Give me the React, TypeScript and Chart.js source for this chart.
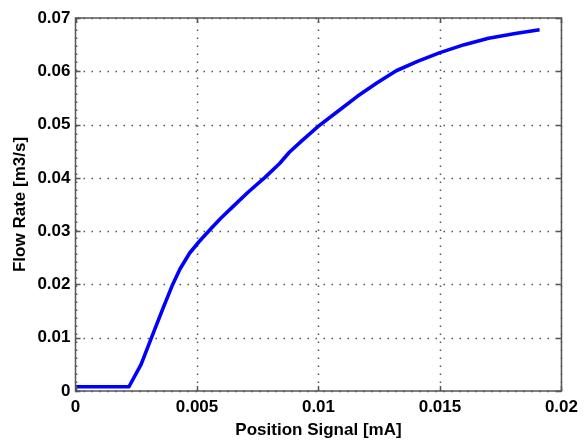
import React, { useEffect, useRef } from "react";
import { Chart, registerables } from "chart.js";

Chart.register(...registerables);

const positionSignal = [
  0, 0.0022, 0.0027, 0.0031, 0.0036, 0.004, 0.0043, 0.0047, 0.0051, 0.0056,
  0.006, 0.0065, 0.0071, 0.0078, 0.0084, 0.0088, 0.0093, 0.01, 0.0108, 0.0116,
  0.0124, 0.0132, 0.0141, 0.015, 0.016, 0.017, 0.0181, 0.0191,
];
const flowRate = [
  0.0008, 0.0008, 0.005, 0.0097, 0.0155, 0.02, 0.0229, 0.0259, 0.0281, 0.0306,
  0.0325, 0.0347, 0.0373, 0.0401, 0.0427, 0.0448, 0.0469, 0.0497, 0.0525, 0.0553,
  0.0578, 0.0601, 0.0619, 0.0635, 0.065, 0.0662, 0.0671, 0.0678,
];

const xTitle = "Position Signal [mA]";
const yTitle = "Flow Rate [m3/s]";
const FONT = "'Liberation Sans', Arial, sans-serif";

const fmt = (v: number) => String(+Number(v).toFixed(4));

const matlabAxes = {
  id: "matlabAxes",
  beforeDatasetsDraw(chart: any) {
    const { ctx, chartArea: a, scales } = chart;
    ctx.save();
    ctx.strokeStyle = "#555555";
    ctx.lineWidth = 1.5;
    ctx.setLineDash([1.5, 6.5]);
    scales.x.ticks.forEach((t: any) => {
      const px = Math.round(scales.x.getPixelForValue(t.value)) + 0.5;
      ctx.beginPath();
      ctx.moveTo(px, a.bottom);
      ctx.lineTo(px, a.top);
      ctx.stroke();
    });
    scales.y.ticks.forEach((t: any) => {
      const py = Math.round(scales.y.getPixelForValue(t.value)) + 0.5;
      ctx.beginPath();
      ctx.moveTo(a.left, py);
      ctx.lineTo(a.right, py);
      ctx.stroke();
    });
    ctx.restore();
  },
  afterDraw(chart: any) {
    const { ctx, chartArea: a, scales } = chart;
    ctx.save();
    ctx.strokeStyle = "#555555";
    ctx.lineWidth = 1.5;
    ctx.setLineDash([]);
    const tl = 5;
    scales.x.ticks.forEach((t: any) => {
      const px = Math.round(scales.x.getPixelForValue(t.value)) + 0.5;
      ctx.beginPath();
      ctx.moveTo(px, a.bottom);
      ctx.lineTo(px, a.bottom - tl);
      ctx.moveTo(px, a.top);
      ctx.lineTo(px, a.top + tl);
      ctx.stroke();
    });
    scales.y.ticks.forEach((t: any) => {
      const py = Math.round(scales.y.getPixelForValue(t.value)) + 0.5;
      ctx.beginPath();
      ctx.moveTo(a.left, py);
      ctx.lineTo(a.left + tl, py);
      ctx.moveTo(a.right, py);
      ctx.lineTo(a.right - tl, py);
      ctx.stroke();
    });
    ctx.strokeRect(a.left, a.top, a.right - a.left, a.bottom - a.top);
    ctx.restore();
  },
};

export default function App() {
  const ref = useRef<HTMLCanvasElement | null>(null);

  useEffect(() => {
    if (!ref.current) return;
    const chart = new Chart(ref.current, {
      type: "line",
      data: {
        datasets: [
          {
            data: positionSignal.map((x, i) => ({ x, y: flowRate[i] })),
            borderColor: "#0000ff",
            borderWidth: 3.6,
            pointRadius: 0,
            tension: 0,
            borderJoinStyle: "round",
            fill: false,
          },
        ],
      },
      options: {
        animation: false,
        responsive: false,
        layout: { padding: { left: 0, top: 18, right: 18, bottom: 0 } },
        plugins: { legend: { display: false }, tooltip: { enabled: false } },
        scales: {
          x: {
            type: "linear",
            min: 0,
            max: 0.02,
            grid: { display: false, drawTicks: false },
            border: { display: false },
            ticks: {
              stepSize: 0.005,
              padding: 6,
              color: "#000",
              font: { family: FONT, size: 17, weight: "bold" },
              callback: (v: any) => fmt(v),
              maxRotation: 0,
            },
            title: {
              display: true,
              text: xTitle,
              color: "#000",
              font: { family: FONT, size: 17, weight: "bold" },
              padding: { top: 3, bottom: 0 },
            },
            afterFit: (s: any) => {
              s.height = 50;
            },
          },
          y: {
            type: "linear",
            min: 0,
            max: 0.07,
            grid: { display: false, drawTicks: false },
            border: { display: false },
            ticks: {
              stepSize: 0.01,
              padding: 5,
              color: "#000",
              font: { family: FONT, size: 17, weight: "bold" },
              callback: (v: any) => fmt(v),
            },
            title: {
              display: true,
              text: yTitle,
              color: "#000",
              font: { family: FONT, size: 17, weight: "bold" },
              padding: { top: 10, bottom: 0 },
            },
            afterFit: (s: any) => {
              s.width = 75.5;
            },
          },
        },
      },
      plugins: [matlabAxes],
    });
    return () => chart.destroy();
  }, []);

  return (
    <div style={{ position: "absolute", left: 0, top: 0, width: 584, height: 441, background: "#fff" }}>
      <canvas ref={ref} width={584} height={441} />
    </div>
  );
}
